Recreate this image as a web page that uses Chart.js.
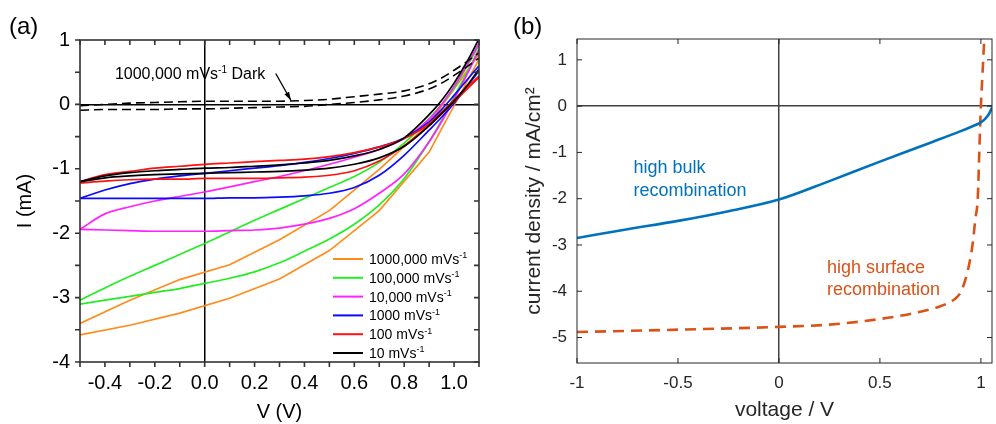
<!DOCTYPE html>
<html>
<head>
<meta charset="utf-8">
<script src="https://cdn.jsdelivr.net/npm/chart.js@4.4.0/dist/chart.umd.min.js"></script>
<style>
  html, body { margin: 0; padding: 0; background: #fff; }
  #wrap { position: relative; width: 996px; height: 424px; overflow: hidden; }
  canvas { position: absolute; top: 0; }
  #ca { left: 0; }
  #cb { left: 500px; }
  .tag { position: absolute; top: 12px; font: 24px 'Liberation Sans', Arial, sans-serif; color: #000; }
</style>
</head>
<body>
<div id="wrap">
  <canvas id="ca" width="500" height="424"></canvas>
  <canvas id="cb" width="496" height="424"></canvas>
  <div class="tag" style="left:9px">(a)</div>
  <div class="tag" style="left:513px">(b)</div>
</div>
<script>
// ---------- panel (a): I-V loops at different scan rates ----------
const volts = [-0.5, -0.4, -0.3, -0.2, -0.1, 0, 0.1, 0.2, 0.3, 0.4, 0.5, 0.6, 0.7, 0.8, 0.9, 0.95, 1.0, 1.05, 1.1];
const voltsCoarse = [-0.5, -0.3, -0.1, 0.1, 0.3, 0.5, 0.7, 0.9, 1.1];

const cur1e6Up   = [-3.40, -3.04, -2.72, -2.49, -2.10, -1.65, -1.01, -0.30, 0.78];
const cur1e6Down = [-3.58, -3.43, -3.24, -3.01, -2.71, -2.27, -1.65, -0.74, 0.70];
const cur1e5Up   = [-3.04, -2.85, -2.67, -2.50, -2.33, -2.16, -1.98, -1.80, -1.63, -1.46, -1.29, -1.12, -0.90, -0.60, -0.22, 0.00, 0.25, 0.58, 0.92];
const cur1e5Down = [-3.10, -3.04, -2.98, -2.92, -2.86, -2.78, -2.70, -2.60, -2.46, -2.28, -2.09, -1.86, -1.56, -1.15, -0.58, -0.25, 0.12, 0.48, 0.86];
const cur1e4Up   = [-1.94, -1.70, -1.59, -1.50, -1.43, -1.36, -1.28, -1.20, -1.12, -1.03, -0.93, -0.82, -0.70, -0.53, -0.23, 0.00, 0.28, 0.60, 0.95];
const cur1e4Down = [-1.94, -1.95, -1.96, -1.97, -1.97, -1.97, -1.96, -1.95, -1.92, -1.86, -1.77, -1.62, -1.38, -1.08, -0.58, -0.27, 0.08, 0.45, 0.85];
const cur1e3Up   = [-1.46, -1.33, -1.23, -1.16, -1.11, -1.07, -1.03, -0.99, -0.95, -0.90, -0.84, -0.76, -0.66, -0.52, -0.27, -0.08, 0.14, 0.37, 0.60];
const cur1e3Down = [-1.46, -1.46, -1.46, -1.46, -1.46, -1.46, -1.45, -1.45, -1.44, -1.42, -1.38, -1.29, -1.10, -0.79, -0.40, -0.20, 0.02, 0.27, 0.52];
const cur1e2Up   = [-1.20, -1.09, -1.04, -0.99, -0.96, -0.93, -0.91, -0.89, -0.87, -0.85, -0.81, -0.75, -0.66, -0.53, -0.30, -0.12, 0.07, 0.26, 0.44];
const cur1e2Down = [-1.22, -1.19, -1.17, -1.16, -1.16, -1.15, -1.15, -1.15, -1.14, -1.13, -1.10, -1.03, -0.88, -0.64, -0.33, -0.15, 0.04, 0.23, 0.42];
const cur10Up    = [-1.20, -1.11, -1.06, -1.03, -1.01, -0.99, -0.98, -0.96, -0.94, -0.91, -0.87, -0.80, -0.70, -0.52, -0.16, 0.06, 0.33, 0.65, 1.02];
const cur10Down  = [-1.20, -1.14, -1.11, -1.09, -1.08, -1.07, -1.06, -1.05, -1.04, -1.02, -0.99, -0.93, -0.83, -0.65, -0.33, -0.14, 0.05, 0.28, 0.55];
const darkUp     = [-0.02, 0.00, 0.02, 0.03, 0.04, 0.05, 0.05, 0.05, 0.05, 0.06, 0.08, 0.12, 0.16, 0.21, 0.32, 0.41, 0.53, 0.66, 0.80];
const darkDown   = [-0.09, -0.08, -0.08, -0.08, -0.07, -0.07, -0.06, -0.05, -0.04, -0.03, 0.00, 0.03, 0.07, 0.13, 0.24, 0.33, 0.45, 0.58, 0.72];

const rateLabels = ['1000,000', '100,000', '10,000', '1000', '100', '10'];

// ---------- panel (b): simulated J-V curves ----------
const bulkV = [-1, -0.75, -0.5, -0.25, 0, 0.25, 0.5, 0.75, 0.9, 0.95, 1.0, 1.02, 1.04, 1.055];
const bulkJ = [-2.85, -2.66, -2.48, -2.27, -2.02, -1.62, -1.20, -0.79, -0.54, -0.45, -0.35, -0.28, -0.17, -0.03];
const surfV = [-1, -0.5, 0, 0.25, 0.5, 0.65, 0.75, 0.82, 0.87, 0.9, 0.925, 0.945, 0.96, 0.972, 0.985, 0.992, 1.0, 1.008, 1.016];
const surfJ = [-4.88, -4.83, -4.77, -4.72, -4.60, -4.49, -4.39, -4.29, -4.17, -4.02, -3.72, -3.35, -2.95, -2.46, -1.95, -1.0, 0.0, 0.7, 1.4];
const xTicksB = [-1, -0.5, 0, 0.5, 1];
const yTicksB = [1, 0, -1, -2, -3, -4, -5];

const FONT = "'Liberation Sans', Arial, sans-serif";
Chart.defaults.font.family = FONT;
Chart.defaults.color = '#000';

function toPoints(xs, ys) {
    return xs.map((x, i) => ({ x: x, y: ys[i] }));
}

// text with a raised "-1" exponent
function supText(ctx, x, y, base, sup, tail, size) {
    ctx.font = size + 'px ' + FONT;
    ctx.fillText(base, x, y);
    let w = ctx.measureText(base).width;
    ctx.font = Math.round(size * 0.62) + 'px ' + FONT;
    ctx.fillText(sup, x + w, y - size * 0.4);
    w += ctx.measureText(sup).width;
    if (tail) {
        ctx.font = size + 'px ' + FONT;
        ctx.fillText(tail, x + w, y);
    }
}

// box frame with tick marks on all four sides (1 = inward, -1 = outward)
const boxTicks = {
    id: 'boxTicks',
    afterDraw(chart, args, o) {
        const { ctx, chartArea: a } = chart;
        const xs = chart.scales.x, ys = chart.scales.y;
        ctx.save();
        ctx.strokeStyle = o.color;
        ctx.lineWidth = o.width;
        ctx.beginPath();
        xs.ticks.forEach(t => {
            const p = xs.getPixelForValue(t.value);
            ctx.moveTo(p, a.top); ctx.lineTo(p, a.top + o.len * o.top);
            ctx.moveTo(p, a.bottom); ctx.lineTo(p, a.bottom - o.len * o.bottom);
        });
        ys.ticks.forEach(t => {
            const p = ys.getPixelForValue(t.value);
            ctx.moveTo(a.left, p); ctx.lineTo(a.left + o.len * o.left, p);
            ctx.moveTo(a.right, p); ctx.lineTo(a.right - o.len * o.right, p);
        });
        ctx.stroke();
        ctx.strokeRect(a.left, a.top, a.right - a.left, a.bottom - a.top);
        ctx.restore();
    }
};

const zeroLine = color => ctx => (Math.abs(ctx.tick.value) < 1e-9 ? color : 'rgba(0,0,0,0)');
const onStep = (v, step) => Math.abs(v / step - Math.round(v / step)) < 1e-6;

// ---------- chart (a) ----------
const loopColors = ['#ff8c1a', '#22ee22', '#ff22ff', '#0a0aff', '#ff1010', '#000000'];
const loops = [
    { xs: voltsCoarse, up: cur1e6Up, down: cur1e6Down, tension: 0 },
    { xs: volts, up: cur1e5Up, down: cur1e5Down },
    { xs: volts, up: cur1e4Up, down: cur1e4Down },
    { xs: volts, up: cur1e3Up, down: cur1e3Down },
    { xs: volts, up: cur1e2Up, down: cur1e2Down },
    { xs: volts, up: cur10Up, down: cur10Down }
];

const datasetsA = [];
loops.forEach((l, i) => {
    [l.up, l.down].forEach(ys => {
        datasetsA.push({
            data: toPoints(l.xs, ys),
            borderColor: loopColors[i],
            borderWidth: 1.7,
            pointRadius: 0,
            fill: false,
            tension: 0,
            cubicInterpolationMode: l.tension === 0 ? 'default' : 'monotone',
            order: 10 - i
        });
    });
});
[darkUp, darkDown].forEach(ys => {
    datasetsA.push({
        data: toPoints(volts, ys),
        borderColor: '#000',
        borderWidth: 1.6,
        borderDash: [9, 5],
        pointRadius: 0,
        fill: false,
        cubicInterpolationMode: 'monotone',
        order: 0
    });
});

const decorA = {
    id: 'decorA',
    afterDraw(chart) {
        const { ctx, chartArea: a } = chart;
        const xs = chart.scales.x, ys = chart.scales.y;
        ctx.save();
        ctx.textBaseline = 'alphabetic';
        ctx.textAlign = 'left';
        // legend
        const lx = a.right - 146, ly = a.bottom - 103, dy = 18.8;
        rateLabels.forEach((r, i) => {
            const y = ly + i * dy;
            ctx.strokeStyle = loopColors[i];
            ctx.lineWidth = 2;
            ctx.beginPath();
            ctx.moveTo(lx, y);
            ctx.lineTo(lx + 30, y);
            ctx.stroke();
            ctx.fillStyle = '#000';
            supText(ctx, lx + 36, y + 5, r + ' mVs', '-1', '', 14);
        });
        // dark-scan annotation and arrow
        ctx.fillStyle = '#000';
        supText(ctx, xs.getPixelForValue(-0.36), ys.getPixelForValue(0.39), '1000,000 mVs', '-1', ' Dark', 16);
        const x0 = xs.getPixelForValue(0.285), y0 = ys.getPixelForValue(0.48);
        const x1 = xs.getPixelForValue(0.346), y1 = ys.getPixelForValue(0.06);
        ctx.strokeStyle = '#000';
        ctx.lineWidth = 1.3;
        ctx.beginPath();
        ctx.moveTo(x0, y0);
        ctx.lineTo(x1, y1);
        ctx.stroke();
        const ang = Math.atan2(y1 - y0, x1 - x0);
        ctx.beginPath();
        ctx.moveTo(x1, y1);
        ctx.lineTo(x1 - 9 * Math.cos(ang - 0.3), y1 - 9 * Math.sin(ang - 0.3));
        ctx.lineTo(x1 - 9 * Math.cos(ang + 0.3), y1 - 9 * Math.sin(ang + 0.3));
        ctx.closePath();
        ctx.fill();
        ctx.restore();
    }
};

new Chart(document.getElementById('ca'), {
    type: 'line',
    data: { datasets: datasetsA },
    options: {
        responsive: false,
        animation: false,
        events: [],
        layout: { padding: { top: 40, right: 21, left: 0, bottom: 0 } },
        plugins: {
            legend: { display: false },
            tooltip: { enabled: false },
            boxTicks: { color: '#333', width: 1.6, len: 5, top: 1, right: 1, bottom: -1, left: -1 }
        },
        scales: {
            x: {
                type: 'linear',
                min: -0.5,
                max: 1.1,
                afterFit: s => { s.height = 62; },
                ticks: {
                    stepSize: 0.1,
                    autoSkip: false,
                    maxRotation: 0,
                    padding: 9,
                    color: '#000',
                    font: { size: 20 },
                    callback: v => {
                        const k = Math.round(v * 10);
                        return k % 2 === 0 ? (k / 10).toFixed(1) : '';
                    }
                },
                grid: { drawTicks: false, color: zeroLine('#000'), lineWidth: 1.5 },
                border: { display: false },
                title: { display: true, text: 'V (V)', color: '#000', font: { size: 20 }, padding: 0 }
            },
            y: {
                min: -4,
                max: 1,
                afterFit: s => { s.width = 80; },
                ticks: {
                    stepSize: 0.5,
                    autoSkip: false,
                    padding: 10,
                    color: '#000',
                    font: { size: 20 },
                    callback: v => (onStep(v, 1) ? String(Math.round(v)) : '')
                },
                grid: { drawTicks: false, color: zeroLine('#000'), lineWidth: 1.5 },
                border: { display: false },
                title: { display: true, text: 'I (mA)', color: '#000', font: { size: 20 }, padding: { top: 13, bottom: 0 } }
            }
        }
    },
    plugins: [boxTicks, decorA]
});

// ---------- chart (b) ----------
const decorB = {
    id: 'decorB',
    afterDraw(chart) {
        const { ctx } = chart;
        const xs = chart.scales.x, ys = chart.scales.y;
        ctx.save();
        ctx.font = '18px ' + FONT;
        ctx.textAlign = 'left';
        ctx.textBaseline = 'middle';
        ctx.fillStyle = '#0072bd';
        ctx.fillText('high bulk', xs.getPixelForValue(-0.72), ys.getPixelForValue(-1.33));
        ctx.fillText('recombination', xs.getPixelForValue(-0.72), ys.getPixelForValue(-1.84));
        ctx.fillStyle = '#d95319';
        ctx.fillText('high surface', xs.getPixelForValue(0.238), ys.getPixelForValue(-3.50));
        ctx.fillText('recombination', xs.getPixelForValue(0.238), ys.getPixelForValue(-3.98));
        ctx.restore();
    }
};

new Chart(document.getElementById('cb'), {
    type: 'line',
    data: {
        datasets: [
            {
                data: toPoints(bulkV, bulkJ),
                borderColor: '#0072bd',
                borderWidth: 2.6,
                pointRadius: 0,
                fill: false,
                cubicInterpolationMode: 'monotone'
            },
            {
                data: toPoints(surfV, surfJ),
                borderColor: '#d95319',
                borderWidth: 2.6,
                borderDash: [11, 7],
                pointRadius: 0,
                fill: false,
                cubicInterpolationMode: 'monotone'
            }
        ]
    },
    options: {
        responsive: false,
        animation: false,
        events: [],
        layout: { padding: { top: 39, right: 4, left: 0, bottom: 0 } },
        plugins: {
            legend: { display: false },
            tooltip: { enabled: false },
            boxTicks: { color: '#262626', width: 1, len: 5, top: 1, right: 1, bottom: 1, left: 1 }
        },
        scales: {
            x: {
                type: 'linear',
                min: -1,
                max: 1.055,
                afterFit: s => { s.height = 61; },
                afterBuildTicks: s => { s.ticks = xTicksB.map(v => ({ value: v })); },
                ticks: {
                    autoSkip: false,
                    maxRotation: 0,
                    padding: 10,
                    color: '#262626',
                    font: { size: 17 },
                    callback: v => String(v)
                },
                grid: { drawTicks: false, color: zeroLine('#404040'), lineWidth: 1.5 },
                border: { display: false },
                title: { display: true, text: 'voltage / V', color: '#262626', font: { size: 21 }, padding: { top: 0, bottom: 1 } }
            },
            y: {
                min: -5.55,
                max: 1.45,
                afterFit: s => { s.width = 77; },
                afterBuildTicks: s => { s.ticks = yTicksB.map(v => ({ value: v })); },
                ticks: {
                    autoSkip: false,
                    padding: 10,
                    color: '#262626',
                    font: { size: 17 },
                    callback: v => String(v)
                },
                grid: { drawTicks: false, color: zeroLine('#404040'), lineWidth: 1.5 },
                border: { display: false },
                title: { display: true, text: 'current density / mA/cm²', color: '#262626', font: { size: 21 }, padding: { top: 22, bottom: 0 } }
            }
        }
    },
    plugins: [boxTicks, decorB]
});
</script>
</body>
</html>
